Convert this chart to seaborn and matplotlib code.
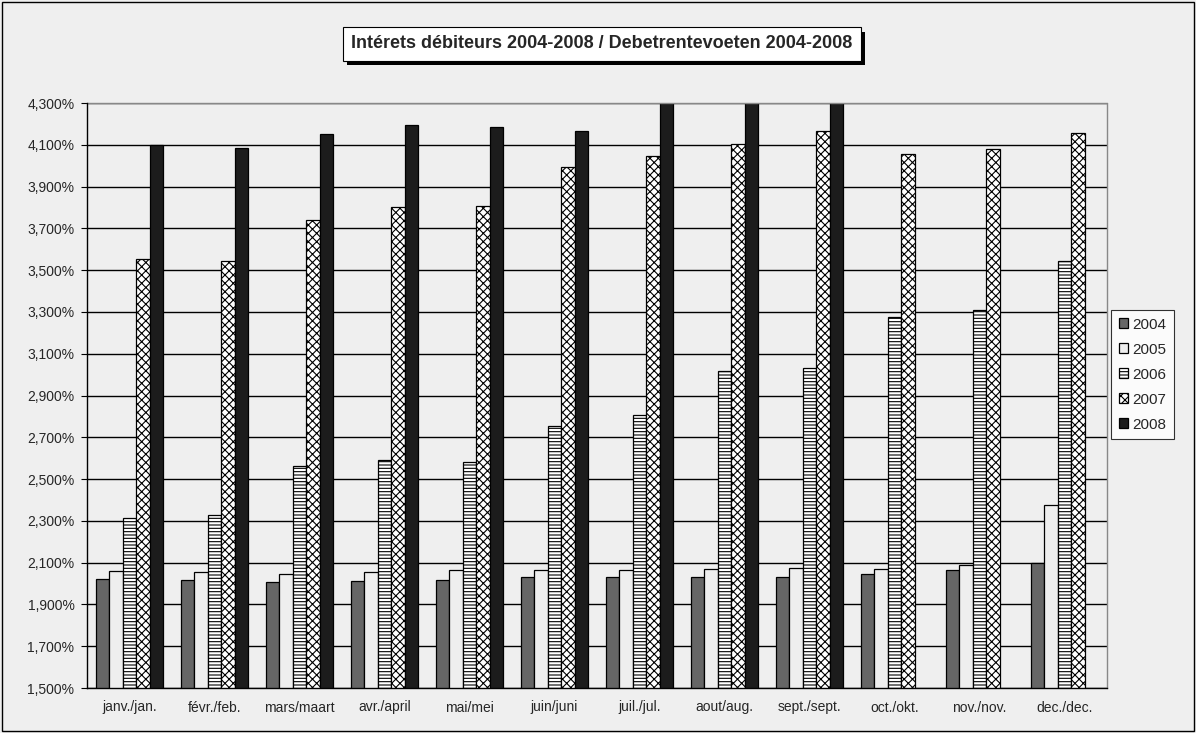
import numpy as np
import pandas as pd
import seaborn as sns
import matplotlib.pyplot as plt
import matplotlib.patheffects as pe
from matplotlib.patches import Rectangle
from matplotlib.ticker import FuncFormatter, FixedLocator

# data (percent)
months = ['janv./jan.', 'févr./feb.', 'mars/maart', 'avr./april', 'mai/mei', 'juin/juni',
          'juil./jul.', 'aout/aug.', 'sept./sept.', 'oct./okt.', 'nov./nov.', 'dec./dec.']
y2004 = [2.022, 2.019, 2.009, 2.014, 2.016, 2.032, 2.032, 2.032, 2.032, 2.045, 2.064, 2.100]
y2005 = [2.061, 2.055, 2.047, 2.055, 2.064, 2.064, 2.064, 2.069, 2.074, 2.069, 2.088, 2.374]
y2006 = [2.316, 2.330, 2.561, 2.590, 2.583, 2.755, 2.807, 3.016, 3.031, 3.277, 3.311, 3.544]
y2007 = [3.551, 3.544, 3.738, 3.800, 3.807, 3.996, 4.044, 4.104, 4.164, 4.055, 4.081, 4.157]
y2008 = [4.097, 4.084, 4.154, 4.196, 4.185, 4.164, 4.300, 4.311, 4.311, np.nan, np.nan, np.nan]
years = ['2004', '2005', '2006', '2007', '2008']

df = pd.DataFrame({'month': months * 5,
                   'year': [y for y in years for _ in months],
                   'rate': y2004 + y2005 + y2006 + y2007 + y2008})

sns.set_style('white')
plt.rcParams['font.family'] = ['Liberation Sans', 'DejaVu Sans']
plt.rcParams['hatch.linewidth'] = 0.8

bg = '#efefef'
fig = plt.figure(figsize=(11.96, 7.33), dpi=100, facecolor=bg)
ax = fig.add_axes([87 / 1196, 1 - 688 / 733, (1107 - 87) / 1196, (688 - 103) / 733])
ax.set_facecolor(bg)

colors = ['#666666', '#eeeeee', '#ffffff', '#ffffff', '#1c1c1c']
hatches = ['', '', '-----', 'xxxx', '']
sns.barplot(data=df, x='month', y='rate', hue='year', palette=colors,
            width=0.79, edgecolor='black', linewidth=0.9, ax=ax, legend=False,
            saturation=1)

for cont, h in zip(ax.containers, hatches):
    for p in cont.patches:
        p.set_hatch(h)

ax.set_ylim(1.5, 4.3)
ax.set_xlim(-0.5, 11.5)
ax.yaxis.set_major_locator(FixedLocator(np.arange(1.5, 4.31, 0.2)))
ax.yaxis.set_major_formatter(FuncFormatter(lambda v, p: f'{v:.3f}%'.replace('.', ',')))
ax.grid(axis='y', color='black', linewidth=1)
ax.set_axisbelow(True)
ax.set_xlabel('')
ax.set_ylabel('')

# tick marks between categories
ax.set_xticks(np.arange(12))
ax.set_xticklabels(months)
ax.set_xticks(np.arange(-0.5, 12, 1), minor=True)
ax.tick_params(axis='x', which='major', length=0, labelsize=10, pad=9)
ax.tick_params(axis='x', which='minor', length=4, color='black', direction='out')
ax.tick_params(axis='y', length=4, color='black', direction='out', labelsize=10, left=True, pad=5)

for s in ['top', 'right']:
    ax.spines[s].set_visible(False)
for s in ['left', 'bottom']:
    ax.spines[s].set_color('black')
    ax.spines[s].set_linewidth(1)
ax.plot([-0.5, 11.5], [4.3, 4.3], color='#888888', linewidth=1, clip_on=False)
ax.plot([11.5, 11.5], [1.5, 4.3], color='#888888', linewidth=1, clip_on=False)

# legend
handles = []
for cont, lab in zip(ax.containers, years):
    handles.append(cont.patches[0])
leg = fig.legend(handles, years, loc='upper left', bbox_to_anchor=(1111 / 1196, 1 - 310 / 733),
                 frameon=True, fancybox=False, fontsize=11, handlelength=0.6,
                 handleheight=0.6, handletextpad=0.3, labelspacing=0.72,
                 borderpad=0.5, borderaxespad=0)
leg.get_frame().set_edgecolor('black')
leg.get_frame().set_facecolor('white')
leg.get_frame().set_linewidth(0.8)

# title box with shadow
t = fig.text(602 / 1196, 1 - 44 / 733,
             'Intérets débiteurs 2004-2008 / Debetrentevoeten 2004-2008',
             ha='center', va='center', fontsize=13, fontweight='bold',
             bbox=dict(boxstyle='square,pad=0.45', facecolor='white', edgecolor='black', linewidth=0.8))
t.get_bbox_patch().set_path_effects([pe.SimplePatchShadow(offset=(3, -3), shadow_rgbFace='black', alpha=1),
                                     pe.Normal()])

fig.patches.append(Rectangle((0.002, 0.003), 0.996, 0.994, transform=fig.transFigure,
                             fill=False, edgecolor='black', linewidth=1))

fig.savefig('out.png', dpi=100, facecolor=bg)
